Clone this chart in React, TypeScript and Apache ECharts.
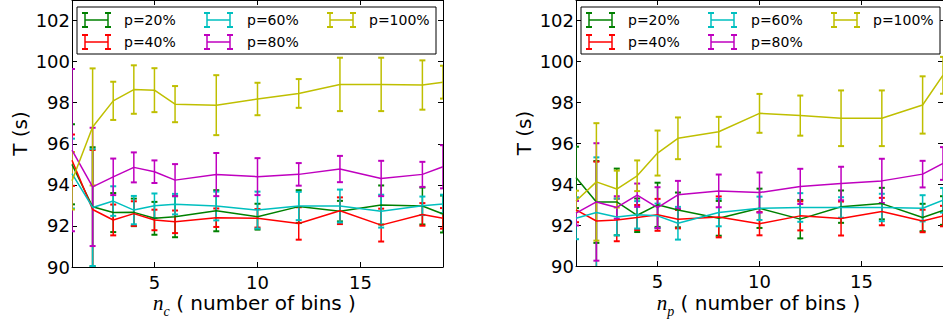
import React, { useEffect, useRef } from 'react';
import * as echarts from 'echarts';

// ---------- data ----------
const xValues = [1, 2, 3, 4, 5, 6, 8, 10, 12, 14, 16, 18, 19];
const seriesNames = ['p=20%', 'p=40%', 'p=60%', 'p=80%', 'p=100%'];
const seriesColors = ['#008000', '#ff0000', '#00bfbf', '#bf00bf', '#bfbf00'];
const xTickValues = [5, 10, 15];
const yTickValues = [90, 92, 94, 96, 98, 100, 102];

// left panel: n_c
const ncP20 = [95.0, 92.93, 92.65, 92.66, 92.37, 92.45, 92.74, 92.45, 92.94, 92.72, 93.02, 92.97, 92.58];
const ncP20Err = [1.95, 2.9, 0.95, 0.67, 0.8, 1.0, 1.0, 0.63, 0.8, 0.5, 0.95, 0.9, 0.9];
const ncP40 = [95.2, 92.8, 92.29, 92.6, 92.29, 92.2, 92.4, 92.37, 92.12, 92.74, 92.04, 92.56, 92.37];
const ncP40Err = [1.25, 2.9, 0.75, 0.6, 0.5, 0.55, 0.45, 0.45, 0.79, 0.65, 0.8, 0.55, 0.5];
const ncP60 = [94.55, 92.9, 93.21, 92.77, 92.98, 93.06, 92.97, 92.77, 92.97, 92.97, 92.72, 92.98, 93.07];
const ncP60Err = [1.7, 2.85, 0.72, 0.69, 0.6, 0.5, 0.7, 0.9, 0.69, 0.8, 0.8, 0.45, 0.45];
const ncP80 = [95.69, 93.9, 94.39, 94.85, 94.64, 94.23, 94.5, 94.4, 94.51, 94.77, 94.31, 94.51, 94.88];
const ncP80Err = [3.95, 2.88, 0.89, 0.73, 0.55, 0.78, 1.05, 0.9, 0.55, 0.64, 0.86, 0.61, 1.05];
const ncP100 = [94.2, 96.82, 98.09, 98.64, 98.61, 97.93, 97.88, 98.18, 98.45, 98.89, 98.89, 98.86, 99.0];
const ncP100Err = [1.4, 2.85, 0.93, 1.18, 1.07, 0.88, 1.46, 0.79, 0.7, 1.3, 1.3, 1.2, 0.8];

// right panel: n_p
const npP20 = [94.33, 93.13, 93.13, 92.48, 92.99, 92.74, 92.33, 92.82, 92.29, 92.9, 93.05, 92.37, 92.71];
const npP20Err = [1.5, 2.0, 1.63, 0.82, 1.08, 0.85, 0.85, 0.96, 0.94, 0.79, 0.77, 0.67, 0.7];
const npP40 = [92.74, 92.2, 92.25, 92.37, 92.5, 92.29, 92.4, 92.07, 92.45, 92.32, 92.66, 92.2, 92.44];
const npP40Err = [0.6, 2.9, 1.04, 0.61, 0.78, 0.45, 1.0, 0.57, 0.71, 0.83, 0.67, 0.55, 0.5];
const npP60 = [92.33, 92.61, 92.4, 92.5, 92.45, 92.09, 92.61, 92.82, 92.86, 92.86, 92.86, 92.82, 93.21];
const npP60Err = [1.02, 2.7, 0.9, 0.67, 0.6, 0.8, 0.67, 0.57, 0.7, 0.5, 0.67, 0.64, 0.6];
const npP80 = [92.58, 93.13, 92.86, 93.46, 92.85, 93.48, 93.67, 93.59, 93.89, 94.03, 94.16, 94.49, 95.01];
const npP80Err = [0.6, 2.87, 0.55, 0.57, 1.0, 0.68, 0.8, 0.98, 0.86, 0.82, 1.08, 0.65, 0.8];
const npP100 = [93.18, 94.11, 93.76, 94.41, 95.52, 96.24, 96.56, 97.46, 97.35, 97.22, 97.22, 97.87, 99.32];
const npP100Err = [0.5, 2.87, 0.9, 0.75, 1.1, 1.02, 0.73, 0.95, 0.98, 1.36, 1.36, 1.4, 0.9];

// ---------- layout ----------
const FONT = 'DejaVu Sans';
const panels = [
  {
    means: [ncP20, ncP40, ncP60, ncP80, ncP100],
    errs: [ncP20Err, ncP40Err, ncP60Err, ncP80Err, ncP100Err],
    sub: 'c',
    grid: { left: 72, top: 0, width: 371, height: 267 },
  },
  {
    means: [npP20, npP40, npP60, npP80, npP100],
    errs: [npP20Err, npP40Err, npP60Err, npP80Err, npP100Err],
    sub: 'p',
    grid: { left: 576, top: 0, width: 373, height: 266 },
  },
];

function makeErrRender(color: string) {
  return (params: any, api: any) => {
    const x = api.value(0);
    const y = api.value(1);
    const e = api.value(2);
    const top = api.coord([x, y + e]);
    const bot = api.coord([x, y - e]);
    const cw = 3;
    const capStyle = { stroke: color, lineWidth: 2 };
    return {
      type: 'group',
      children: [
        { type: 'line', shape: { x1: top[0], y1: top[1], x2: bot[0], y2: bot[1] }, style: { stroke: color, lineWidth: 1.5 } },
        { type: 'line', shape: { x1: top[0] - cw, y1: top[1], x2: top[0] + cw, y2: top[1] }, style: capStyle },
        { type: 'line', shape: { x1: bot[0] - cw, y1: bot[1], x2: bot[0] + cw, y2: bot[1] }, style: capStyle },
      ],
    };
  };
}

function buildOption() {
  const grid: any[] = [];
  const xAxis: any[] = [];
  const yAxis: any[] = [];
  const series: any[] = [];
  const graphic: any[] = [];
  const axisLine = { show: true, onZero: false, lineStyle: { color: '#000', width: 1 } };
  const labelBase = { fontSize: 18, fontFamily: FONT, color: '#000' };

  panels.forEach((p, g) => {
    grid.push({ ...p.grid, containLabel: false });
    ['bottom', 'top'].forEach((pos) => {
      xAxis.push({
        type: 'value', gridIndex: g, position: pos, min: 1, max: 19,
        axisLine,
        axisTick: { show: true, inside: true, length: 5, customValues: xTickValues, lineStyle: { color: '#000' } },
        axisLabel: pos === 'bottom'
          ? { show: true, customValues: xTickValues, margin: 6, ...labelBase }
          : { show: false },
        splitLine: { show: false },
      });
    });
    ['left', 'right'].forEach((pos) => {
      yAxis.push({
        type: 'value', gridIndex: g, position: pos, min: 90, max: 103,
        axisLine,
        axisTick: { show: true, inside: true, length: 5, customValues: yTickValues, lineStyle: { color: '#000' } },
        axisLabel: pos === 'left'
          ? { show: true, customValues: yTickValues, margin: 2, ...labelBase }
          : { show: false },
        splitLine: { show: false },
      });
    });

    seriesNames.forEach((name, k) => {
      const color = seriesColors[k];
      series.push({
        type: 'custom', name, xAxisIndex: 2 * g, yAxisIndex: 2 * g, clip: true, silent: true,
        data: xValues.map((x, i) => [x, p.means[k][i], p.errs[k][i]]),
        encode: { x: 0, y: 1 },
        renderItem: makeErrRender(color),
      });
      series.push({
        type: 'line', name, xAxisIndex: 2 * g, yAxisIndex: 2 * g, clip: true, silent: true,
        data: xValues.map((x, i) => [x, p.means[k][i]]),
        symbol: 'none', showSymbol: false,
        lineStyle: { color, width: 1.5 }, itemStyle: { color },
      });
    });

    const L = p.grid.left;
    const H = p.grid.height;
    const centerX = L + 185.5;
    // y axis name
    graphic.push({
      type: 'text', x: L - 52, y: H / 2, rotation: Math.PI / 2, z: 100,
      style: { text: 'T (s)', fontSize: 20, fontFamily: FONT, fill: '#000', align: 'center', verticalAlign: 'middle' },
    });
    // x axis name
    graphic.push({
      type: 'text', x: centerX - 3, y: 303, z: 100,
      style: {
        text: `{n|n}{s|${p.sub}}{t| ( number of bins )}`,
        align: 'center', verticalAlign: 'middle', fill: '#000',
        rich: {
          n: { fontSize: 21, fontFamily: 'Liberation Serif', fontStyle: 'italic', fill: '#000' },
          s: { fontSize: 14, fontFamily: 'Liberation Serif', fontStyle: 'italic', fill: '#000', padding: [16, 0, 0, 0] },
          t: { fontSize: 20, fontFamily: FONT, fill: '#000' },
        },
      },
    });
    // legend box
    graphic.push({
      type: 'rect', z: 100, shape: { x: L + 5, y: 7, width: 359, height: 47 },
      style: { fill: '#fff', stroke: '#000', lineWidth: 1 },
    });
    const colMarker = [13, 135, 258];
    const colText = [52, 175, 297];
    const rowY = [20, 42];
    seriesNames.forEach((name, k) => {
      const col = Math.floor(k / 2);
      const row = k % 2;
      const color = seriesColors[k];
      const mx = L + colMarker[col];
      const my = rowY[row];
      const st = { stroke: color, lineWidth: 1.5 };
      const cst = { stroke: color, lineWidth: 2 };
      graphic.push({ type: 'line', z: 101, shape: { x1: mx, y1: my, x2: mx + 23, y2: my }, style: st });
      [mx, mx + 23].forEach((vx) => {
        graphic.push({ type: 'line', z: 101, shape: { x1: vx, y1: my - 7, x2: vx, y2: my + 7 }, style: st });
        graphic.push({ type: 'line', z: 101, shape: { x1: vx - 3, y1: my - 7, x2: vx + 3, y2: my - 7 }, style: cst });
        graphic.push({ type: 'line', z: 101, shape: { x1: vx - 3, y1: my + 7, x2: vx + 3, y2: my + 7 }, style: cst });
      });
      graphic.push({
        type: 'text', z: 101, x: L + colText[col], y: my,
        style: { text: name, fontSize: 14, fontFamily: FONT, fill: '#000', align: 'left', verticalAlign: 'middle' },
      });
    });
  });

  return { animation: false, backgroundColor: '#fff', grid, xAxis, yAxis, series, graphic };
}

export default function App() {
  const ref = useRef<HTMLDivElement>(null);
  useEffect(() => {
    if (!ref.current) return;
    const chart = echarts.init(ref.current, undefined, { renderer: 'svg' });
    chart.setOption(buildOption() as any);
    return () => chart.dispose();
  }, []);
  return (
    <div
      ref={ref}
      style={{ position: 'fixed', left: 0, top: 0, width: 943, height: 321, background: '#fff' }}
    />
  );
}
